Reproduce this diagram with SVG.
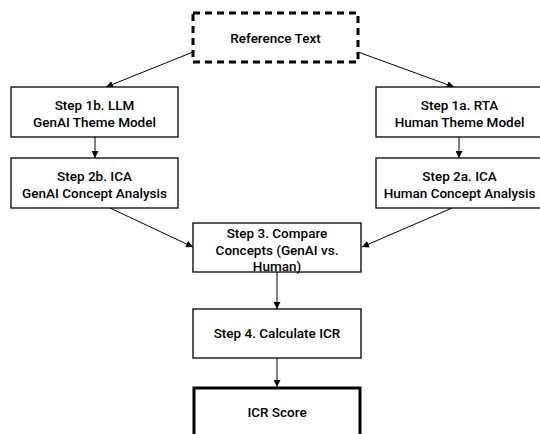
<svg xmlns="http://www.w3.org/2000/svg" width="540" height="434" viewBox="0 0 540 434">
  <defs>
    <marker id="ah" viewBox="0 0 10 10" refX="10" refY="5" markerWidth="7" markerHeight="7" markerUnits="userSpaceOnUse" orient="auto">
      <path d="M0,0 L10,5 L0,10 z" fill="#000"/>
    </marker>
    <style>
      .box { fill: #fff; stroke: #000; stroke-width: 1.3; }
      .dash { fill: #fff; stroke: #000; stroke-width: 3; stroke-dasharray: 7 5; }
      .thick { fill: #fff; stroke: #000; stroke-width: 3; }
      .t { font-family: Roboto, "Liberation Sans", Arial, sans-serif; font-size: 13.5px; font-weight: 500; fill: #000; text-anchor: middle; }
      .c { fill: none; stroke: #000; stroke-width: 1; marker-end: url(#ah); }
    </style>
  </defs>
  <rect width="540" height="434" fill="#fff"/>
  <g id="connectors">
    <line class="c" x1="193" y1="52" x2="106" y2="87"/>
    <line class="c" x1="358" y1="52" x2="454" y2="87"/>
    <line class="c" x1="95" y1="137" x2="95" y2="158"/>
    <line class="c" x1="459" y1="137" x2="459" y2="158"/>
    <line class="c" x1="110" y1="208" x2="193" y2="247"/>
    <line class="c" x1="452" y1="208" x2="362" y2="247"/>
    <line class="c" x1="277" y1="272" x2="277" y2="309"/>
    <line class="c" x1="277" y1="358" x2="277" y2="387"/>
  </g>
  <g id="ref">
    <rect class="dash" x="193" y="13" width="165" height="49"/>
    <text class="t" x="275.5" y="42.5">Reference Text</text>
  </g>
  <g id="step1b">
    <rect class="box" x="11" y="87" width="167" height="50"/>
    <text class="t" x="94.5" y="109.5">Step 1b. LLM</text>
    <text class="t" x="94.5" y="126.5">GenAI Theme Model</text>
  </g>
  <g id="step2b">
    <rect class="box" x="11" y="158" width="167" height="50"/>
    <text class="t" x="94.5" y="180.5">Step 2b. ICA</text>
    <text class="t" x="94.5" y="197.5">GenAI Concept Analysis</text>
  </g>
  <g id="step1a">
    <rect class="box" x="376" y="87" width="167" height="50"/>
    <text class="t" x="459.5" y="109.5">Step 1a. RTA</text>
    <text class="t" x="459.5" y="126.5">Human Theme Model</text>
  </g>
  <g id="step2a">
    <rect class="box" x="376" y="158" width="167" height="50"/>
    <text class="t" x="459.5" y="180.5">Step 2a. ICA</text>
    <text class="t" x="459.5" y="197.5">Human Concept Analysis</text>
  </g>
  <g id="step3">
    <rect class="box" x="193" y="223" width="168" height="49"/>
    <text class="t" x="277" y="238">Step 3. Compare</text>
    <text class="t" x="277" y="254.5">Concepts (GenAI vs.</text>
    <text class="t" x="277" y="271">Human)</text>
  </g>
  <g id="step4">
    <rect class="box" x="193" y="309" width="168" height="49"/>
    <text class="t" x="277" y="338">Step 4. Calculate ICR</text>
  </g>
  <g id="icr">
    <rect class="thick" x="194" y="388" width="166" height="60"/>
    <text class="t" x="277" y="417">ICR Score</text>
  </g>
</svg>
